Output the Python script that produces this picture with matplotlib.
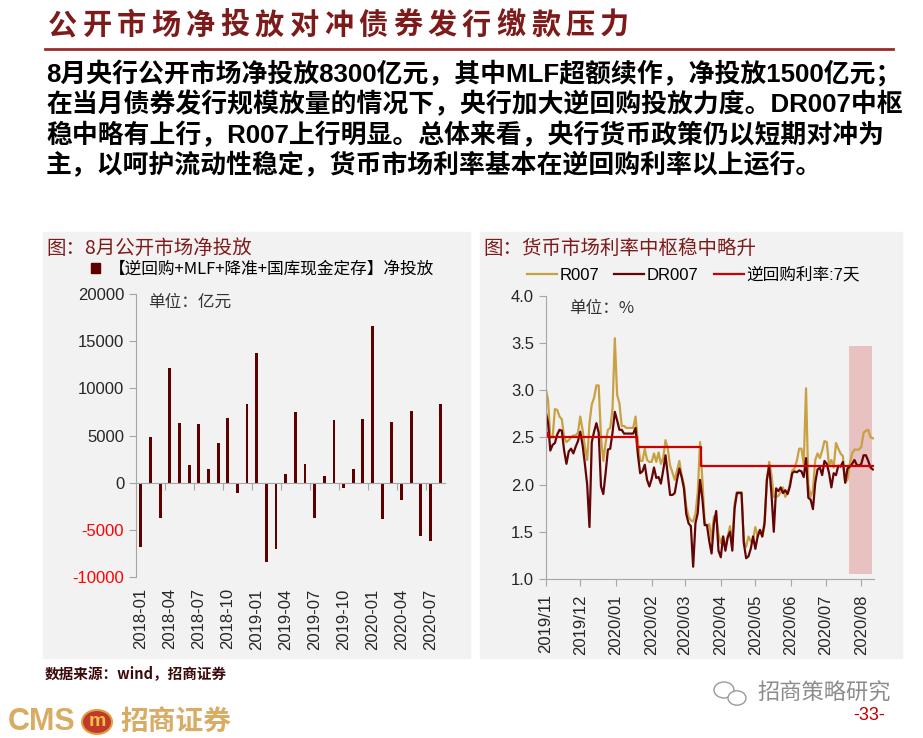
import pandas as pd
import matplotlib
matplotlib.use('Agg')
import matplotlib.pyplot as plt
from matplotlib.patches import Rectangle, Patch, Circle
from matplotlib.lines import Line2D

plt.rcParams['font.family'] = ['Liberation Sans', 'Noto Sans CJK SC']
plt.rcParams['axes.unicode_minus'] = False
CJK = ['Noto Sans CJK SC', 'Liberation Sans']

# ---- texts ----
page_title = '公开市场净投放对冲债券发行缴款压力'
para_lines = [
    '8月央行公开市场净投放8300亿元，其中MLF超额续作，净投放1500亿元；',
    '在当月债券发行规模放量的情况下，央行加大逆回购投放力度。DR007中枢',
    '稳中略有上行，R007上行明显。总体来看，央行货币政策仍以短期对冲为',
    '主，以呵护流动性稳定，货币市场利率基本在逆回购利率以上运行。',
]
left_title = '图：8月公开市场净投放'
left_legend = '【逆回购+MLF+降准+国库现金定存】净投放'
right_title = '图：货币市场利率中枢稳中略升'
source_text = '数据来源：wind，招商证券'

# ---- left chart data: monthly net injection (亿元) ----
months = pd.period_range('2018-01', '2020-08', freq='M').strftime('%Y-%m')
net_injection = [-6800, 4850, -3750, 12200, 6300, 1900, 6200, 1450, 4200, 6850,
                 -1050, 8350, 13700, -8400, -7000, 950, 7500, 2000, -3750, 700,
                 6650, -550, 1400, 6750, 16600, -3850, 6450, -1850, 7650, -5700,
                 -6200, 8300]
left_yticks = [-10000, -5000, 0, 5000, 10000, 15000, 20000]

# ---- right chart data: rates (%), sampled every 2 days from 2019-11-16 ----
rate_start = '2019-11-16'
r007 = [3.02, 2.90, 2.50, 2.50, 2.80, 2.79, 2.72, 2.69, 2.50, 2.45,
        2.47, 2.50, 2.52, 2.52, 2.55, 2.72, 2.58, 2.40, 2.26, 2.65,
        2.85, 2.92, 3.05, 3.05, 2.50, 2.25, 2.44, 2.58, 2.60, 2.80,
        3.55, 2.95, 2.86, 2.62, 2.62, 2.60, 2.60, 2.60, 2.60, 2.72,
        2.46, 2.25, 2.25, 2.38, 2.26, 2.24, 2.24, 2.33, 2.24, 2.34,
        2.22, 2.28, 2.47, 2.38, 2.20, 2.13, 2.05, 2.15, 2.25, 2.10,
        2.00, 1.77, 1.66, 1.62, 1.61, 1.69, 1.92, 2.45, 2.05, 1.60,
        1.56, 1.58, 1.42, 1.66, 1.68, 1.47, 1.38, 1.45, 1.34, 1.45,
        1.56, 1.40, 1.80, 1.92, 1.92, 1.92, 1.40, 1.34, 1.45, 1.40,
        1.42, 1.55, 1.45, 1.52, 1.45, 1.56, 2.05, 2.24, 2.10, 1.87,
        1.87, 1.88, 1.92, 1.97, 1.87, 1.91, 2.01, 2.15, 2.17, 2.25,
        2.38, 2.38, 2.22, 3.02, 2.00, 1.87, 1.94, 2.26, 2.33, 2.28,
        2.36, 2.46, 2.45, 2.20, 2.26, 2.18, 2.44, 2.38, 2.33, 2.30,
        2.02, 2.05, 2.22, 2.33, 2.37, 2.37, 2.37, 2.40, 2.55, 2.57,
        2.58, 2.50, 2.49]
dr007 = [2.77, 2.66, 2.36, 2.42, 2.44, 2.53, 2.58, 2.57, 2.36, 2.22,
         2.35, 2.38, 2.33, 2.40, 2.46, 2.56, 2.42, 2.22, 2.00, 1.55,
         2.45, 2.56, 2.65, 2.55, 1.98, 1.90, 2.12, 2.37, 2.38, 2.55,
         2.77, 2.68, 2.58, 2.58, 2.54, 2.54, 2.54, 2.54, 2.54, 2.60,
         2.32, 2.12, 2.14, 2.21, 2.05, 1.98, 2.06, 2.18, 2.07, 2.08,
         2.01, 2.15, 2.31, 2.10, 1.89, 1.89, 1.91, 2.05, 2.17, 2.08,
         1.96, 1.69, 1.59, 1.56, 1.13, 1.59, 1.70, 2.05, 1.85, 1.57,
         1.57, 1.40, 1.27, 1.58, 1.72, 1.30, 1.23, 1.45, 1.30, 1.44,
         1.50, 1.30, 1.75, 1.91, 1.91, 1.91, 1.38, 1.22, 1.24, 1.32,
         1.45, 1.32, 1.45, 1.52, 1.45, 1.60, 2.05, 2.20, 1.90, 1.50,
         1.96, 1.93, 1.97, 1.91, 1.94, 1.90, 1.98, 2.12, 2.14, 2.13,
         2.15, 2.14, 2.08, 2.28, 1.86, 1.84, 1.74, 2.02, 2.16, 2.18,
         2.10, 2.25, 2.22, 2.12, 1.97, 2.12, 2.10, 2.20, 2.19, 2.24,
         2.02, 2.17, 2.19, 2.22, 2.26, 2.21, 2.20, 2.22, 2.31, 2.31,
         2.25, 2.18, 2.16]
repo_dates = ['2019-11-16', '2019-11-18', '2020-02-03', '2020-03-30', '2020-08-27']
repo_rate = [2.55, 2.50, 2.40, 2.20, 2.20]
shade_dates = ['2020-08-05', '2020-08-25']
shade_low, shade_high = 1.05, 3.47
right_yticks = [1.0, 1.5, 2.0, 2.5, 3.0, 3.5, 4.0]

rate_dates = pd.date_range(rate_start, periods=len(r007), freq='2D')
month_ticks = pd.date_range('2019-11-16', '2020-08-16', freq=pd.DateOffset(months=1))

# ---- colours ----
MAROON = '#7d1b1b'
BAR = '#5e0000'
GOLD = '#c9a042'
DARK = '#640404'
RED = '#cc0000'
PANEL = '#f2f2f2'
SPINE = '#a6a6a6'
TXT = '#262626'

W, H = 923, 738
fig = plt.figure(figsize=(W / 100, H / 100), dpi=100)


def fx(p):
    return p / W


def fy(p):
    return 1 - p / H


# header
for i, ch in enumerate(page_title):
    fig.text(fx(48 + i * 34.5), fy(25), ch, family=CJK, fontsize=21,
             color=MAROON, va='center', ha='left', fontweight='bold')
fig.add_artist(Line2D([fx(45), fx(893)], [fy(49), fy(49)], color='#9b2a2a', lw=2))
for i, line in enumerate(para_lines):
    fig.text(fx(46), fy(74 + i * 30.3), line, fontsize=18.6, fontweight='bold',
             color='black', va='center', ha='left')

# panels
for x0, x1 in [(43, 470), (480, 902)]:
    fig.add_artist(Rectangle((fx(x0), fy(658)), fx(x1) - fx(x0), fy(232) - fy(658),
                             transform=fig.transFigure, color=PANEL, zorder=-1))

# ---- left chart ----
fig.text(fx(46), fy(248), left_title, family=CJK, fontsize=14, color=MAROON, va='center')
ax1 = fig.add_axes([fx(136), fy(577), fx(445) - fx(136), fy(294) - fy(577)])
ax1.set_facecolor('none')
x = range(len(net_injection))
ax1.bar(x, net_injection, width=0.3, color=BAR)
ax1.set_xlim(-0.5, len(net_injection) - 0.5)
ax1.set_ylim(-10000, 20000)
ax1.set_yticks(left_yticks)
ax1.set_yticklabels([str(v) for v in left_yticks], fontsize=12)
for lab, v in zip(ax1.get_yticklabels(), left_yticks):
    lab.set_color('#ff0000' if v < 0 else TXT)
for s in ['top', 'right']:
    ax1.spines[s].set_visible(False)
ax1.spines['left'].set_color(SPINE)
ax1.spines['bottom'].set_color(SPINE)
ax1.spines['bottom'].set_position(('data', 0))
ax1.set_xticks([i - 0.5 for i in range(3, len(net_injection), 3)])
ax1.set_xticklabels([])
ax1.tick_params(axis='both', color=SPINE, length=5, direction='out')
for i in range(0, len(months), 3):
    ax1.text(i, -0.04, months[i], transform=ax1.get_xaxis_transform(), rotation=90,
             ha='center', va='top', fontsize=12, color=TXT)
ax1.text(0.04, 0.97, '单位：亿元', transform=ax1.transAxes, family=CJK, fontsize=12,
         color='#333333', va='center', ha='left')
fig.legend(handles=[Patch(color=BAR)], labels=[left_legend], loc='center left',
           bbox_to_anchor=(fx(76), fy(269)), frameon=False,
           handlelength=0.55, handleheight=0.55, handletextpad=0.5,
           prop={'family': CJK, 'size': 12})

# ---- right chart ----
fig.text(fx(483), fy(248), right_title, family=CJK, fontsize=14, color=MAROON, va='center')
ax2 = fig.add_axes([fx(545.7), fy(579), fx(874) - fx(545.7), fy(295.7) - fy(579)])
ax2.set_facecolor('none')
l1, = ax2.plot(rate_dates, r007, color=GOLD, lw=1.6)
l2, = ax2.plot(rate_dates, dr007, color=DARK, lw=1.6)
l3, = ax2.plot(pd.to_datetime(repo_dates), repo_rate, color=RED, lw=1.6,
               drawstyle='steps-post')
ax2.fill_between(pd.to_datetime(shade_dates), shade_low, shade_high,
                 color='#c00000', alpha=0.2, lw=0)
ax2.set_xlim(pd.Timestamp(rate_start), pd.Timestamp('2020-08-27'))
ax2.set_ylim(1.0, 4.0)
ax2.set_yticks(right_yticks)
ax2.set_yticklabels([f'{v:.1f}' for v in right_yticks], fontsize=12, color=TXT)
ax2.set_xticks(month_ticks)
ax2.set_xticklabels(month_ticks.strftime('%Y/%m'), rotation=90, fontsize=12, color=TXT)
for s in ['top', 'right']:
    ax2.spines[s].set_visible(False)
ax2.spines['left'].set_color(SPINE)
ax2.spines['bottom'].set_color(SPINE)
ax2.tick_params(axis='both', color=SPINE, length=5, direction='out')
ax2.tick_params(axis='x', pad=6)
ax2.text(0.07, 0.955, '单位：%', transform=ax2.transAxes, family=CJK, fontsize=12,
         color='#333333', va='center', ha='left')
fig.legend(handles=[l1, l2, l3], labels=['R007', 'DR007', '逆回购利率:7天'],
           loc='center left', bbox_to_anchor=(fx(512), fy(275)), ncol=3,
           frameon=False, handlelength=1.8, handletextpad=0.15, columnspacing=0.9,
           prop={'family': ['Liberation Sans', 'Noto Sans CJK SC'], 'size': 12})

# ---- footer ----
fig.text(fx(45), fy(673), source_text, family=CJK, fontsize=10.5, color='#3d0a0a',
         va='center', fontweight='bold')
fig.text(fx(8), fy(722), 'CMS', fontsize=22, fontweight='bold', color='#d9ac65', va='center')
fig.add_artist(Circle((fx(97), fy(722)), 15 / W, transform=fig.transFigure,
                      facecolor='#c0392b', edgecolor='#e0a040', lw=1.5))
fig.text(fx(97), fy(722), 'm', fontsize=14, fontweight='bold', color='#f5c04a',
         ha='center', va='center')
fig.text(fx(120), fy(722), '招商证券', family=CJK, fontsize=20, fontweight='bold',
         color='#d9ac65', va='center')
for cx, cy, r in [(724, 690, 10), (737, 698, 9)]:
    fig.add_artist(Circle((fx(cx), fy(cy)), r / W, transform=fig.transFigure,
                          facecolor='white', edgecolor='#9a9a9a', lw=1))
fig.text(fx(757), fy(693), '招商策略研究', family=CJK, fontsize=16, color='#8c8c8c',
         va='center')
fig.text(fx(853), fy(716), '-33-', fontsize=13, color='#c00000', va='center')

fig.savefig('out.png', dpi=100)
